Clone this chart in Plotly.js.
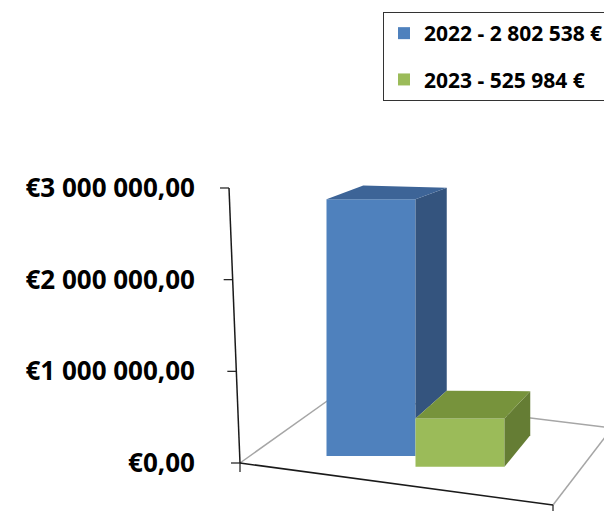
<!DOCTYPE html>
<html>
<head>
<meta charset="utf-8">
<script src="https://cdn.plot.ly/plotly-3.0.1.min.js"></script>
<style>html,body{margin:0;padding:0;background:#fff;}#chart{width:604px;height:511px;}</style>
</head>
<body>
<div id="chart"></div>
<script>
// ---- data ----
const years = ['2022', '2023'];
const values = [2802538, 525984];
const seriesNames = ['2022 - 2 802 538 €', '2023 - 525 984 €'];
const tickVals = [0, 1000000, 2000000, 3000000];
const tickText = ['€0,00', '€1 000 000,00', '€2 000 000,00', '€3 000 000,00'];

// ---- styling ----
const frontColors = ['#4F81BD', '#9BBB59'];
const topColors = ['#3D6497', '#77933C'];
const sideColors = ['#34547E', '#657D34'];
const FONT = '"Open Sans", Lato, sans-serif';

// pseudo-3D projection helpers (pixel scale of the axes)
const PXX = 89;            // px per category unit
const PXY = 91.67 / 1e6;   // px per euro
function depthOff(xe, y) {
  return { dx: (34 - 5.5 * xe) / PXX, dy: (31 - 6.4 * y / 1e6 - 2.5 * xe * y / 3e6) / PXY };
}
function floorBase(i) { return 75000 - 115000 * i; }

const traces = [];
const n = values.length;
const bases = values.map((v, i) => floorBase(i));
const tops = values.map((v, i) => bases[i] + v);

// front faces (real bars)
for (let i = 0; i < n; i++) {
  traces.push({
    type: 'bar', x: [i], y: [values[i]], base: [bases[i]], width: [1],
    name: seriesNames[i], legendgroup: years[i],
    marker: { color: frontColors[i], line: { width: 0 } },
    hoverinfo: 'name'
  });
}
// side and top faces
for (let i = 0; i < n; i++) {
  const xl = i - 0.5, xr = i + 0.5, t = tops[i];
  let bottom = bases[i];
  if (i + 1 < n) bottom = Math.max(bottom, tops[i + 1]);
  const oR = depthOff(xr, t), oL = depthOff(xl, t), oB = depthOff(xr, bottom);
  if (bottom < t) {
    traces.push({
      type: 'scatter', mode: 'none', fill: 'toself', fillcolor: sideColors[i],
      x: [xr, xr + oR.dx, xr + oB.dx, xr, xr],
      y: [t, t + oR.dy, bottom + oB.dy, bottom, t],
      showlegend: false, hoverinfo: 'skip'
    });
  }
  traces.push({
    type: 'scatter', mode: 'none', fill: 'toself', fillcolor: topColors[i],
    x: [xl, xr, xr + oR.dx, xl + oL.dx, xl],
    y: [t, t, t + oR.dy, t + oL.dy, t],
    showlegend: false, hoverinfo: 'skip'
  });
}

// axis frame / floor (decoration)
const toX = px => (px - 371) / PXX;
const toY = py => (463 - py) / PXY;
const shapes = [];
const gray = '#A6A6A6', dark = '#1a1a1a';
const fl = { x: toX(240), y: 0 }, fr = { x: toX(553), y: toY(505) },
      bl = { x: toX(337), y: toY(394) }, br = { x: toX(612), y: toY(428) };
function seg(a, b, color, w) {
  shapes.push({ type: 'line', xref: 'x', yref: 'y', layer: 'below',
    x0: a.x, y0: a.y, x1: b.x, y1: b.y, line: { color: color, width: w } });
}
seg(fl, bl, gray, 1.5);
seg(bl, br, gray, 1.5);
seg(fr, br, gray, 1.5);
seg(fl, fr, dark, 1.5);
// x-axis boundary ticks
seg(fl, { x: fl.x, y: fl.y - 9 / PXY }, dark, 1.2);
seg(fr, { x: fr.x, y: fr.y - 9 / PXY }, dark, 1.2);
// tilted value axis with ticks
const axisX = y => toX(240 - 11 * y / 3000000);
seg({ x: axisX(0), y: 0 }, { x: axisX(3000000), y: 3000000 }, dark, 1.5);
tickVals.forEach(v => {
  seg({ x: axisX(v) - 9 / PXX, y: v }, { x: axisX(v), y: v }, dark, 1.2);
});

const layout = {
  width: 604, height: 511,
  margin: { l: 218, r: 0, t: 150, b: 0, autoexpand: false },
  paper_bgcolor: '#fff', plot_bgcolor: 'rgba(0,0,0,0)',
  barmode: 'overlay',
  showlegend: true,
  legend: {
    x: (383 - 218) / 386, y: (511 - 12) / 361, xanchor: 'left', yanchor: 'top',
    bordercolor: '#333', borderwidth: 1, bgcolor: '#fff',
    font: { family: FONT, size: 21, weight: 700, color: '#000' },
    traceorder: 'grouped', tracegroupgap: 16
  },
  xaxis: {
    range: [toX(218), toX(604)], showgrid: false, zeroline: false,
    showticklabels: false, showline: false, ticks: '', fixedrange: true
  },
  yaxis: {
    range: [toY(511), toY(150)], showgrid: false, zeroline: false, showline: false,
    ticks: '', tickmode: 'array', tickvals: tickVals, ticktext: tickText,
    ticklabelstandoff: 22,
    tickfont: { family: FONT, size: 26, weight: 700, color: '#000' },
    fixedrange: true
  },
  shapes: shapes
};

Plotly.newPlot('chart', traces, layout, { displayModeBar: false, staticPlot: true });
</script>
</body>
</html>
